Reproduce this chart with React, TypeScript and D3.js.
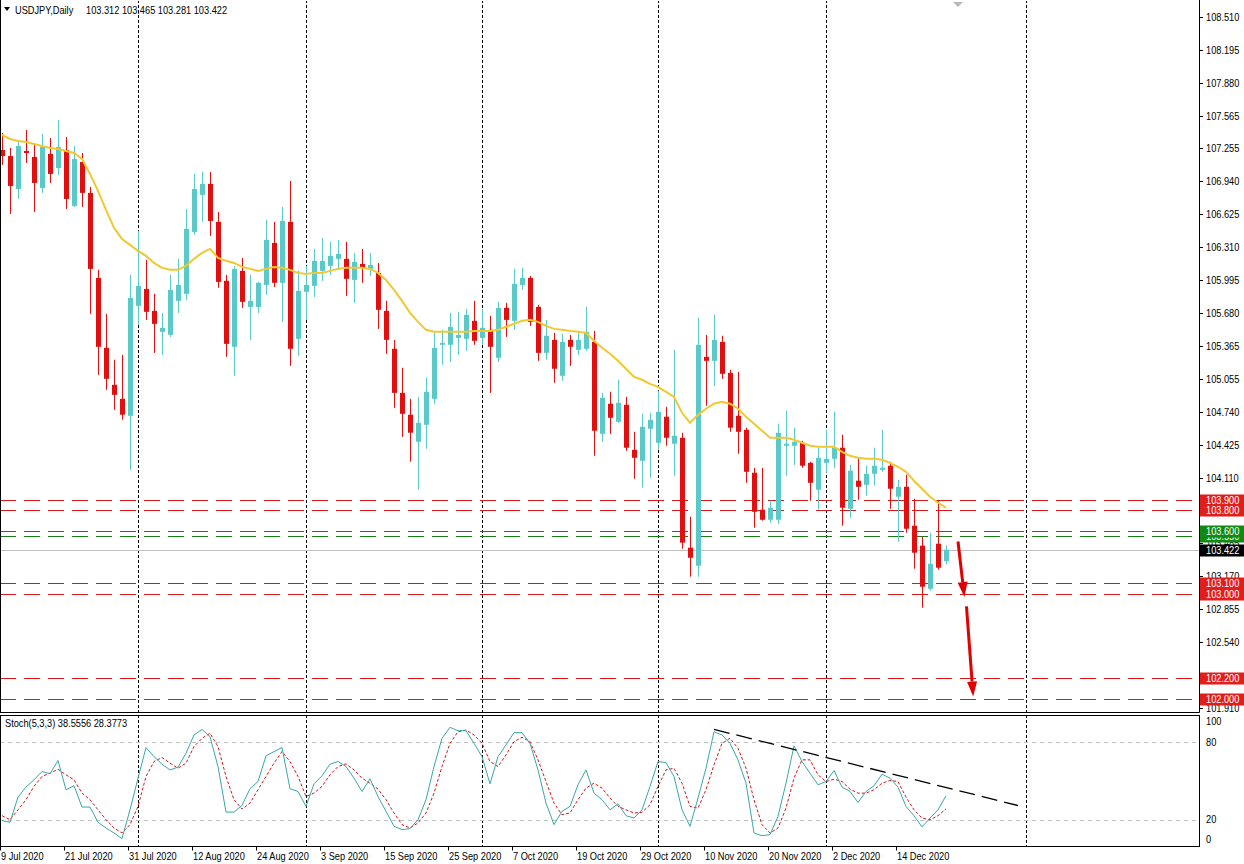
import React from "react";
import * as d3 from "d3";

// ---------- DATA ----------
const symbolTitle = "USDJPY,Daily";
const headerValues = "103.312 103.465 103.281 103.422";
const stochTitle = "Stoch(5,3,3) 38.5556 28.3773";

const dateLabels = [
  "9 Jul 2020", "21 Jul 2020", "31 Jul 2020", "12 Aug 2020", "24 Aug 2020",
  "3 Sep 2020", "15 Sep 2020", "25 Sep 2020", "7 Oct 2020", "19 Oct 2020",
  "29 Oct 2020", "10 Nov 2020", "20 Nov 2020", "2 Dec 2020", "14 Dec 2020",
];
const dateLabelStep = 8; // one label every 8 bars

const opens = [
  107.240, 107.182, 106.867, 107.230, 107.173, 106.877, 107.202, 107.068, 107.240, 106.706,
  107.125, 106.830, 106.018, 105.350, 104.997, 104.863, 104.701, 105.751, 105.913, 105.703,
  105.503, 105.474, 105.799, 105.866, 106.457, 106.811, 106.916, 106.553, 105.990, 105.360,
  106.085, 105.741, 105.741, 105.951, 106.352, 105.971, 106.553, 105.436, 105.885, 105.942,
  106.085, 106.133, 106.200, 106.200, 105.999, 106.152, 106.104, 106.066, 105.703, 105.341,
  104.920, 104.711, 104.453, 104.615, 104.863, 105.379, 105.379, 105.445, 105.436, 105.608,
  105.445, 105.522, 105.255, 105.732, 105.608, 105.951, 106.018, 105.741, 105.302, 105.426,
  105.083, 105.426, 105.331, 105.341, 105.407, 104.529, 104.816, 104.644, 104.806, 104.376,
  104.271, 104.577, 104.443, 104.692, 104.434, 104.491, 103.441, 103.269, 105.264, 105.226,
  105.407, 105.111, 104.701, 104.567, 104.157, 103.804, 103.708, 103.708, 104.415, 104.415,
  104.443, 104.252, 103.995, 104.252, 104.290, 104.396, 103.813, 104.081, 104.042, 104.147,
  104.185, 104.224, 103.928, 104.023, 103.651, 103.460, 103.049, 103.479, 103.312,
];
const highs = [
  107.402, 107.259, 107.335, 107.431, 107.306, 107.393, 107.354, 107.527, 107.364, 107.278,
  107.211, 106.887, 106.095, 105.675, 105.236, 105.283, 106.047, 106.467, 106.190, 105.866,
  105.684, 106.047, 106.200, 106.677, 107.011, 107.030, 107.030, 106.648, 106.047, 106.133,
  106.209, 106.047, 105.980, 106.572, 106.553, 106.696, 106.944, 106.085, 106.133, 106.295,
  106.400, 106.362, 106.381, 106.362, 106.257, 106.295, 106.257, 106.161, 105.799, 105.426,
  105.159, 104.863, 104.882, 105.064, 105.493, 105.522, 105.684, 105.694, 105.722, 105.799,
  105.722, 105.656, 105.789, 105.780, 106.104, 106.114, 106.037, 105.761, 105.617, 105.493,
  105.484, 105.474, 105.493, 105.741, 105.512, 104.920, 104.930, 105.045, 104.882, 104.548,
  104.720, 104.730, 104.940, 104.787, 105.331, 104.539, 103.737, 105.637, 105.474, 105.665,
  105.465, 105.140, 105.121, 104.587, 104.204, 104.204, 103.890, 104.625, 104.749, 104.587,
  104.462, 104.262, 104.396, 104.567, 104.739, 104.520, 104.233, 104.300, 104.224, 104.396,
  104.567, 104.262, 104.090, 104.138, 103.909, 103.546, 103.584, 103.890, 103.465,
];
const lows = [
  107.097, 106.629, 106.772, 107.116, 106.648, 106.830, 106.925, 107.001, 106.677, 106.696,
  106.696, 105.675, 105.092, 104.949, 104.758, 104.663, 104.185, 105.570, 105.617, 105.302,
  105.283, 105.455, 105.684, 105.808, 106.429, 106.553, 106.419, 105.923, 105.264, 105.083,
  105.732, 105.426, 105.684, 105.856, 105.932, 105.598, 105.178, 105.274, 105.617, 105.837,
  105.990, 106.047, 106.104, 105.846, 105.780, 105.971, 106.037, 105.531, 105.293, 104.777,
  104.500, 104.262, 103.995, 104.386, 104.816, 105.188, 105.216, 105.283, 105.321, 105.379,
  105.379, 104.920, 105.216, 105.455, 105.522, 105.904, 105.560, 105.226, 105.236, 105.016,
  105.035, 105.178, 105.283, 105.321, 104.319, 104.453, 104.529, 104.634, 104.367, 104.100,
  104.014, 104.109, 104.376, 104.415, 104.128, 103.431, 103.164, 103.164, 104.796, 104.987,
  105.054, 104.548, 104.338, 104.061, 103.632, 103.699, 103.680, 103.670, 104.128, 104.233,
  104.204, 103.890, 103.804, 104.157, 104.204, 103.651, 103.727, 103.899, 103.937, 104.033,
  104.166, 103.813, 103.498, 103.584, 103.240, 102.868, 103.030, 103.231, 103.281,
];
const closes = [
  107.182, 106.896, 107.278, 107.211, 106.925, 107.268, 107.011, 107.268, 106.772, 107.154,
  106.830, 106.104, 105.360, 105.054, 104.901, 104.711, 105.827, 105.942, 105.694, 105.579,
  105.541, 105.904, 105.951, 106.486, 106.867, 106.916, 106.562, 105.980, 105.388, 106.104,
  105.789, 105.799, 105.971, 106.381, 105.971, 106.562, 105.341, 105.894, 105.951, 106.181,
  106.181, 106.228, 106.248, 106.009, 106.171, 106.114, 106.142, 105.713, 105.426, 104.920,
  104.720, 104.539, 104.634, 104.930, 105.350, 105.398, 105.551, 105.474, 105.665, 105.417,
  105.541, 105.360, 105.732, 105.617, 105.961, 106.018, 105.598, 105.302, 105.465, 105.150,
  105.407, 105.360, 105.426, 105.503, 104.558, 104.873, 104.682, 104.825, 104.396, 104.300,
  104.596, 104.663, 104.739, 104.491, 104.510, 103.489, 103.345, 105.379, 105.226, 105.426,
  105.102, 104.587, 104.548, 104.166, 103.784, 103.708, 103.823, 104.539, 104.434, 104.453,
  104.224, 104.061, 104.300, 104.290, 104.396, 103.823, 104.176, 104.023, 104.147, 104.224,
  104.204, 104.004, 104.023, 103.622, 103.393, 103.068, 103.288, 103.250, 103.422,
];
const movingAverage = [
  107.383, 107.345, 107.326, 107.316, 107.297, 107.278, 107.259, 107.250, 107.230, 107.211,
  107.154, 107.011, 106.849, 106.667, 106.496, 106.390, 106.333, 106.276, 106.228, 106.161,
  106.114, 106.095, 106.095, 106.133, 106.200, 106.257, 106.295, 106.209, 106.181, 106.161,
  106.123, 106.104, 106.085, 106.104, 106.123, 106.114, 106.095, 106.066, 106.056, 106.066,
  106.066, 106.085, 106.104, 106.114, 106.114, 106.114, 106.104, 106.066, 105.999, 105.904,
  105.799, 105.684, 105.598, 105.522, 105.503, 105.503, 105.503, 105.503, 105.503, 105.512,
  105.512, 105.512, 105.522, 105.551, 105.579, 105.608, 105.617, 105.598, 105.560, 105.531,
  105.522, 105.512, 105.503, 105.493, 105.417, 105.350, 105.293, 105.226, 105.150, 105.073,
  105.045, 105.006, 104.978, 104.930, 104.882, 104.730, 104.634, 104.710, 104.768, 104.816,
  104.835, 104.816, 104.768, 104.691, 104.625, 104.558, 104.491, 104.491, 104.491, 104.472,
  104.443, 104.415, 104.405, 104.405, 104.405, 104.357, 104.319, 104.300, 104.290, 104.290,
  104.281, 104.252, 104.214, 104.166, 104.081, 104.004, 103.928, 103.870, 103.823,
];
const stochK = [
  19.3, 18.0, 37.5, 45.3, 50.9, 57.4, 55.6, 65.9, 43.2, 46.3,
  29.8, 29.8, 18.0, 13.6, 9.7, 5.3, 27.7, 52.2, 75.9, 68.9,
  63.0, 58.6, 60.7, 71.5, 85.7, 90.0, 84.4, 61.2, 25.9, 25.9,
  31.1, 44.0, 49.6, 69.5, 72.8, 75.9, 44.0, 41.9, 30.3, 47.8,
  54.0, 63.0, 65.1, 61.2, 52.2, 41.9, 51.7, 38.0, 26.5, 14.9,
  12.3, 13.1, 20.0, 35.5, 61.2, 83.1, 91.6, 89.0, 89.0, 79.2,
  68.9, 47.8, 68.9, 78.0, 87.5, 87.5, 79.2, 58.6, 32.9, 16.2,
  26.5, 30.3, 47.1, 58.6, 40.6, 35.5, 27.7, 32.4, 23.1, 21.3,
  27.7, 45.8, 65.1, 64.3, 53.5, 27.7, 14.9, 36.8, 59.9, 88.2,
  85.7, 79.2, 66.4, 48.3, 9.7, 7.6, 8.4, 22.6, 48.3, 77.2,
  65.1, 56.1, 47.1, 49.6, 58.1, 45.3, 41.9, 33.4, 41.9, 46.3,
  55.3, 52.2, 45.3, 30.3, 23.1, 14.4, 21.3, 27.7, 38.56,
];
const stochD = [
  23.1, 20.0, 27.7, 35.5, 45.8, 53.5, 56.1, 59.1, 54.8, 50.9,
  40.6, 35.5, 27.7, 20.0, 13.6, 9.7, 16.2, 30.3, 53.5, 65.1,
  68.2, 63.8, 59.9, 63.8, 76.7, 83.1, 87.0, 76.7, 53.5, 35.5,
  28.2, 32.9, 43.2, 53.5, 63.8, 72.8, 65.1, 53.5, 38.0, 40.6,
  45.8, 54.8, 61.2, 63.3, 58.6, 52.2, 48.3, 43.7, 35.5, 25.2,
  16.2, 13.6, 17.5, 25.2, 40.6, 61.2, 79.2, 88.2, 89.5, 85.7,
  79.2, 65.1, 61.2, 70.2, 80.5, 83.9, 80.5, 66.4, 49.6, 32.9,
  23.9, 25.2, 35.5, 44.5, 48.3, 44.5, 36.8, 30.3, 27.7, 25.2,
  25.7, 31.6, 45.8, 58.6, 59.9, 48.3, 30.3, 29.0, 43.2, 62.5,
  79.2, 83.1, 75.4, 59.9, 35.5, 16.2, 9.7, 13.6, 29.0, 52.2,
  66.4, 66.4, 54.8, 49.6, 51.4, 49.6, 43.7, 40.6, 40.6, 43.2,
  48.3, 50.4, 49.6, 37.5, 27.7, 21.3, 20.0, 23.1, 28.38,
];
// price-axis labels that remain (partly) visible in the reference
const priceTicks = [
  "108.510", "108.195", "107.880", "107.565", "107.255", "106.940", "106.625", "106.310",
  "105.995", "105.680", "105.365", "105.055", "104.740", "104.425", "104.110",
  "103.485", "103.170", "102.855", "102.540", "101.910",
];
const redLevels = [103.9, 103.8, 103.1, 103.0, 102.2, 102.0];
const greenLevels = [103.55, 103.6];
const lastPrice = 103.422;
const monthStartBars = [17, 38, 60, 82, 103, 128];
const stochLevels = [80, 20];
const stochAxisLabels = [100, 80, 20, 0];
const stochTrend = [[89, 90], [127, 31]];
const arrows = [
  { from: [119.5, 103.5], to: [120.3, 102.97] },
  { from: [120.56, 102.88], to: [121.4, 102.02] },
];
const shiftMarkerBar = 119.5;

// ---------- STYLE ----------
const FONT = "'Liberation Sans', Arial, sans-serif";
const FS = 10.5;
const SX = 0.88; // horizontal squeeze to mimic Tahoma 8pt
const BULL = "#5cc9c9";
const BEAR = "#e01010";
const LEVEL_RED = "#d81818";
const LEVEL_GREEN = "#1a7a1a";

function T(props: { x: number; y: number; fill?: string; children: React.ReactNode; mid?: boolean }) {
  const { x, y, fill = "#000", children, mid } = props;
  return (
    <text transform={`translate(${x},${y}) scale(${SX},1)`} dy={mid ? "0.36em" : undefined}
      fontSize={FS} fontFamily={FONT} fill={fill} style={{ whiteSpace: "pre" }}>
      {children}
    </text>
  );
}

export default function App() {
  const plotR = 1199.5;
  const mainBottom = 712.5;
  const stTop = 715.5, stBottom = 846.5;

  const x = d3.scaleLinear().domain([0, 118]).range([2, 946]);
  const y = d3.scaleLinear().domain([101.91, 108.51]).range([708, 17]);
  const ys = d3.scaleLinear().domain([0, 100]).range([845.5, 716.5]);

  const maLine = d3.line<number>().x((_, i) => x(i)).y((d) => y(d))(movingAverage) || "";
  const kLine = d3.line<number>().x((_, i) => x(i)).y((d) => ys(d))(stochK) || "";
  const dLine = d3.line<number>().x((_, i) => x(i)).y((d) => ys(d))(stochD) || "";

  const box = (p: number, fill: string, key: string) => (
    <g key={key}>
      <rect x={1200} y={Math.round(y(p)) - 5.5} width={44} height={12} fill={fill} />
      <T x={1206} y={Math.round(y(p)) + 0.5} fill="#fff" mid>{p.toFixed(3)}</T>
    </g>
  );

  return (
    <div>
      <style>{`body{margin:0;background:#fff}`}</style>
      <svg width={1244} height={864} style={{ display: "block", background: "#fff" }}>
        <defs>
          <clipPath id="mainClip">
            <rect x={1} y={1} width={1198} height={711} />
          </clipPath>
          <clipPath id="stClip">
            <rect x={1} y={716} width={1198} height={130} />
          </clipPath>
        </defs>

        {/* ---- main panel ---- */}
        <g clipPath="url(#mainClip)">
          {monthStartBars.map((b) => (
            <line key={"vg" + b} x1={Math.round(x(b)) + 0.5} x2={Math.round(x(b)) + 0.5}
              y1={0} y2={713} stroke="#000" strokeDasharray="3,2" />
          ))}
          <line x1={0} x2={plotR} y1={Math.round(y(lastPrice)) + 0.5} y2={Math.round(y(lastPrice)) + 0.5}
            stroke="#c0c0c0" />
          {redLevels.map((p) => (
            <line key={"rl" + p} x1={0} x2={plotR} y1={Math.round(y(p)) + 0.5} y2={Math.round(y(p)) + 0.5}
              stroke={LEVEL_RED} strokeDasharray="16,8" />
          ))}
          {greenLevels.map((p) => (
            <line key={"gl" + p} x1={0} x2={plotR} y1={Math.round(y(p)) + 0.5} y2={Math.round(y(p)) + 0.5}
              stroke={LEVEL_GREEN} strokeDasharray="16,8" />
          ))}
          {opens.map((o, i) => {
            const c = closes[i];
            const bull = c >= o;
            const col = bull ? BULL : BEAR;
            const cx = Math.round(x(i));
            const top = y(Math.max(o, c));
            const h = Math.max(1, Math.abs(y(o) - y(c)));
            return (
              <g key={"c" + i}>
                <line x1={cx + 0.5} x2={cx + 0.5} y1={y(highs[i])} y2={y(lows[i])} stroke={col} />
                <rect x={cx - 2} y={top} width={5} height={h} fill={col} />
              </g>
            );
          })}
          <path d={maLine} fill="none" stroke="#f0c830" strokeWidth={2} />
          {arrows.map((a, k) => {
            const x1 = x(a.from[0]), y1 = y(a.from[1]);
            const x2 = x(a.to[0]), y2 = y(a.to[1]);
            const ang = Math.atan2(y2 - y1, x2 - x1);
            const len = 15, half = 5;
            const bx = x2 - len * Math.cos(ang), by = y2 - len * Math.sin(ang);
            const px = -Math.sin(ang), py = Math.cos(ang);
            return (
              <g key={"ar" + k}>
                <line x1={x1} y1={y1} x2={bx} y2={by} stroke="#e00000" strokeWidth={3} />
                <polygon
                  points={`${x2},${y2} ${bx + px * half},${by + py * half} ${bx - px * half},${by - py * half}`}
                  fill="#e00000" />
              </g>
            );
          })}
          <polygon
            points={`${x(shiftMarkerBar) - 5},2 ${x(shiftMarkerBar) + 5},2 ${x(shiftMarkerBar)},7`}
            fill="#b8b8b8" />
        </g>

        {/* header */}
        <polygon points="4,7 10,7 7,11" fill="#000" />
        <T x={15} y={14}>{symbolTitle}</T>
        <T x={86} y={14}>{headerValues}</T>

        {/* main frame */}
        <line x1={0.5} x2={0.5} y1={0} y2={mainBottom} stroke="#000" />
        <line x1={plotR} x2={plotR} y1={0} y2={mainBottom} stroke="#000" />
        <line x1={0} x2={plotR} y1={mainBottom} y2={mainBottom} stroke="#000" />

        {/* price axis */}
        {priceTicks.map((t) => {
          const yy = Math.round(y(+t)) + 0.5;
          return (
            <g key={"pt" + t}>
              <line x1={1200} x2={1203} y1={yy} y2={yy} stroke="#000" />
              <T x={1206} y={yy} mid>{t}</T>
            </g>
          );
        })}
        {redLevels.map((p) => box(p, "#e31c1c", "rb" + p))}
        {greenLevels.map((p) => box(p, "#118a11", "gb" + p))}
        {box(lastPrice, "#000", "lp")}

        {/* ---- stochastic panel ---- */}
        <g clipPath="url(#stClip)">
          {monthStartBars.map((b) => (
            <line key={"svg" + b} x1={Math.round(x(b)) + 0.5} x2={Math.round(x(b)) + 0.5}
              y1={715} y2={847} stroke="#000" strokeDasharray="3,2" />
          ))}
          {stochLevels.map((l) => (
            <line key={"sl" + l} x1={0} x2={plotR} y1={Math.round(ys(l)) + 0.5} y2={Math.round(ys(l)) + 0.5}
              stroke="#c0c0c0" strokeDasharray="4,4" />
          ))}
          <path d={dLine} fill="none" stroke="#d01818" strokeWidth={1} strokeDasharray="3,2" />
          <path d={kLine} fill="none" stroke="#3aa7a7" strokeWidth={1} />
          <line x1={x(stochTrend[0][0])} y1={ys(stochTrend[0][1])} x2={x(stochTrend[1][0])} y2={ys(stochTrend[1][1])}
            stroke="#000" strokeWidth={1.3} strokeDasharray="16,7" />
        </g>
        <rect x={0.5} y={stTop} width={plotR - 0.5} height={stBottom - stTop} fill="none" stroke="#000" />
        <T x={5} y={727}>{stochTitle}</T>
        {stochAxisLabels.map((v) => {
          const yy = v === 100 ? ys(v) + 5 : v === 0 ? ys(v) - 6 : ys(v);
          return <T key={"sa" + v} x={1206} y={yy} mid>{v}</T>;
        })}

        {/* date axis */}
        {dateLabels.map((d, k) => {
          const bx = Math.round(x(k * dateLabelStep)) - 2;
          return (
            <g key={"dl" + d}>
              <line x1={bx + 0.5} x2={bx + 0.5} y1={stBottom} y2={stBottom + 4} stroke="#000" />
              <T x={bx + 1} y={860}>{d}</T>
            </g>
          );
        })}
      </svg>
    </div>
  );
}
